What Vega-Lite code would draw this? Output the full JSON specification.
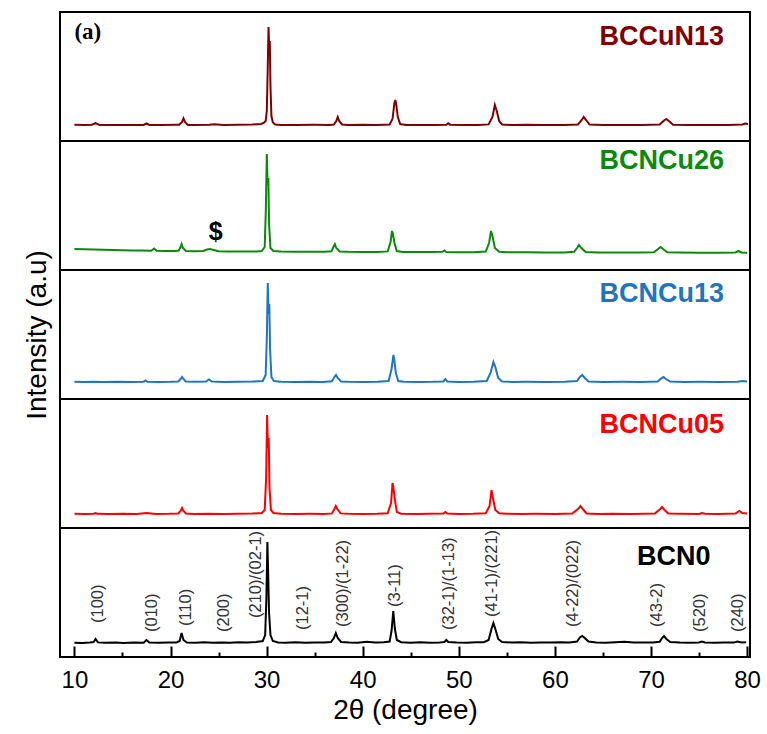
{
  "$schema": "https://vega.github.io/schema/vega-lite/v6.json",
  "padding": {"left": 22, "top": 11, "right": 10, "bottom": 5},
  "spacing": 0,
  "bounds": "flush",
  "config": {"view": {"stroke": "#000", "strokeWidth": 2}, "concat": {"spacing": 0}, "font": "Liberation Sans"},
  "datasets": {
    "bccun13": [
      {"x":10,"y":16.2},{"x":11,"y":16},{"x":11.8,"y":16.3},{"x":12.2,"y":17.8},{"x":12.6,"y":16},{"x":14,"y":16.1},{"x":16,"y":15.9},{"x":17.2,"y":16},{"x":17.5,"y":17.5},{"x":17.8,"y":16},{"x":19,"y":16},{"x":20.6,"y":16.2},
      {"x":20.9,"y":16.2},{"x":21.2,"y":19},{"x":21.35,"y":22.5},{"x":21.5,"y":19},{"x":21.8,"y":16.1},
      {"x":22.5,"y":16},{"x":24,"y":16.3},{"x":24.6,"y":16.8},{"x":25.5,"y":16},{"x":27,"y":16.2},{"x":28.5,"y":16.5},{"x":29.4,"y":17},
      {"x":29.7,"y":18},{"x":29.9,"y":20},{"x":30.02,"y":30},{"x":30.12,"y":75},{"x":30.2,"y":114},{"x":30.27,"y":90},{"x":30.33,"y":100},{"x":30.4,"y":55},{"x":30.5,"y":25},{"x":30.65,"y":18.5},{"x":30.9,"y":16.5},{"x":31.5,"y":16},
      {"x":33,"y":16},{"x":35,"y":16.2},{"x":36.5,"y":16.1},{"x":37.0,"y":16.5},{"x":37.25,"y":20},{"x":37.4,"y":24},{"x":37.55,"y":20},{"x":37.85,"y":16.5},{"x":38.5,"y":16},{"x":40,"y":16.2},{"x":41.5,"y":16},
      {"x":42.8,"y":16.5},{"x":43.1,"y":22},{"x":43.3,"y":38},{"x":43.4,"y":41},{"x":43.5,"y":36},{"x":43.65,"y":24},{"x":43.9,"y":17},{"x":44.5,"y":16},{"x":46,"y":16.1},{"x":47.5,"y":16},
      {"x":48.7,"y":16.2},{"x":48.9,"y":17.8},{"x":49.1,"y":16.2},{"x":50.5,"y":16},{"x":52,"y":16.1},
      {"x":53.1,"y":16.6},{"x":53.5,"y":24},{"x":53.75,"y":36},{"x":53.95,"y":30},{"x":54.2,"y":20},{"x":54.5,"y":16.5},{"x":55.5,"y":16},{"x":57,"y":16.2},{"x":59,"y":16},{"x":61,"y":16.1},
      {"x":62.4,"y":16.5},{"x":62.8,"y":21},{"x":63.0,"y":24},{"x":63.25,"y":21},{"x":63.6,"y":16.5},{"x":65,"y":16},{"x":67,"y":16.1},{"x":69,"y":16},
      {"x":70.9,"y":16.4},{"x":71.35,"y":20.5},{"x":71.6,"y":22},{"x":71.85,"y":20},{"x":72.3,"y":16.3},{"x":74,"y":16},{"x":76,"y":16.1},{"x":78,"y":16},{"x":79.5,"y":16.5},{"x":79.8,"y":17.5},{"x":80.1,"y":17}
    ],
    "bcncu26": [
      {"x":10,"y":21},{"x":11,"y":20.8},{"x":12,"y":20.6},{"x":13,"y":20.3},{"x":14,"y":20},{"x":15,"y":19.8},{"x":16,"y":19.6},{"x":17,"y":19.4},{"x":18,"y":19.2},{"x":18.3,"y":21.5},{"x":18.55,"y":19.2},{"x":19.5,"y":19},{"x":20.5,"y":18.9},
      {"x":20.85,"y":19.5},{"x":21.05,"y":23},{"x":21.15,"y":26},{"x":21.3,"y":22},{"x":21.6,"y":19},{"x":22.5,"y":18.8},{"x":23.4,"y":19},{"x":23.8,"y":20.5},{"x":24.1,"y":21},{"x":24.5,"y":20},{"x":25,"y":18.8},{"x":26,"y":18.6},{"x":27,"y":18.5},{"x":28,"y":18.5},{"x":29,"y":18.6},
      {"x":29.5,"y":19},{"x":29.8,"y":23},{"x":29.92,"y":60},{"x":30.02,"y":116},{"x":30.1,"y":85},{"x":30.18,"y":92},{"x":30.26,"y":45},{"x":30.4,"y":22},{"x":30.7,"y":19},{"x":31.5,"y":18.4},{"x":33,"y":18.3},{"x":34.5,"y":18.2},{"x":36,"y":18.2},
      {"x":36.75,"y":18.8},{"x":36.95,"y":23},{"x":37.1,"y":26},{"x":37.25,"y":22},{"x":37.6,"y":18.6},{"x":38.5,"y":18.2},{"x":40,"y":18.1},{"x":41.5,"y":18},
      {"x":42.6,"y":18.6},{"x":42.9,"y":28},{"x":43.05,"y":39},{"x":43.15,"y":36},{"x":43.3,"y":27},{"x":43.55,"y":19},{"x":44.2,"y":18},{"x":45.5,"y":17.9},{"x":47,"y":17.9},
      {"x":48.3,"y":18.2},{"x":48.5,"y":19.5},{"x":48.7,"y":18},{"x":50,"y":17.8},{"x":51.5,"y":17.8},
      {"x":52.8,"y":18.5},{"x":53.15,"y":27},{"x":53.35,"y":39},{"x":53.5,"y":34},{"x":53.75,"y":22},{"x":54.2,"y":18.3},{"x":55,"y":17.8},{"x":57,"y":17.7},{"x":59,"y":17.6},{"x":61,"y":17.6},
      {"x":62,"y":18.2},{"x":62.3,"y":22},{"x":62.5,"y":25},{"x":62.75,"y":22},{"x":63.2,"y":18},{"x":64.5,"y":17.5},{"x":66.5,"y":17.5},{"x":68.5,"y":17.4},
      {"x":70.3,"y":17.8},{"x":70.8,"y":21.5},{"x":71.0,"y":23},{"x":71.25,"y":21},{"x":71.7,"y":17.7},{"x":73,"y":17.4},{"x":75,"y":17.3},{"x":77,"y":17.2},{"x":78.8,"y":17.5},{"x":79.1,"y":19},{"x":79.4,"y":17.5},{"x":80,"y":17.3}
    ],
    "bcncu13": [
      {"x":10,"y":17.3},{"x":11,"y":17},{"x":12,"y":17.2},{"x":13,"y":17},{"x":14.5,"y":17.2},{"x":16,"y":17},{"x":17.2,"y":17.3},{"x":17.4,"y":18.5},{"x":17.6,"y":17.2},{"x":18.8,"y":17},{"x":20,"y":17.2},
      {"x":20.8,"y":17.6},{"x":21.05,"y":20},{"x":21.2,"y":22},{"x":21.35,"y":20},{"x":21.6,"y":17.5},{"x":22.5,"y":17.2},{"x":23.7,"y":17.5},{"x":24.0,"y":19.5},{"x":24.3,"y":17.4},{"x":25.5,"y":17},{"x":27,"y":17.2},{"x":28.5,"y":17.4},
      {"x":29.6,"y":18},{"x":29.9,"y":24},{"x":30.02,"y":60},{"x":30.12,"y":116},{"x":30.2,"y":85},{"x":30.28,"y":95},{"x":30.36,"y":50},{"x":30.5,"y":22},{"x":30.75,"y":18},{"x":31.5,"y":17.2},{"x":33,"y":17},{"x":34.5,"y":17.2},{"x":35.8,"y":17},
      {"x":36.8,"y":17.8},{"x":37.05,"y":22},{"x":37.22,"y":24},{"x":37.4,"y":21},{"x":37.75,"y":17.6},{"x":38.5,"y":17.2},{"x":40,"y":17},{"x":41.5,"y":17.2},
      {"x":42.7,"y":18},{"x":43.0,"y":30},{"x":43.2,"y":44},{"x":43.3,"y":38},{"x":43.45,"y":26},{"x":43.7,"y":18},{"x":44.3,"y":17.2},{"x":45.8,"y":17},{"x":47.3,"y":17.2},
      {"x":48.4,"y":17.6},{"x":48.6,"y":20},{"x":48.8,"y":17.5},{"x":50,"y":17.1},{"x":51.5,"y":17.2},
      {"x":52.9,"y":18},{"x":53.3,"y":26},{"x":53.6,"y":37},{"x":53.8,"y":32},{"x":54.1,"y":21},{"x":54.5,"y":17.6},{"x":55.5,"y":17.1},{"x":57,"y":17.2},{"x":59,"y":17},{"x":61,"y":17.2},
      {"x":62.3,"y":18},{"x":62.6,"y":22},{"x":62.85,"y":24},{"x":63.1,"y":21},{"x":63.5,"y":17.6},{"x":65,"y":17.1},{"x":67,"y":17.2},{"x":69,"y":17},
      {"x":70.7,"y":17.6},{"x":71.1,"y":21},{"x":71.3,"y":22},{"x":71.55,"y":20},{"x":72,"y":17.4},{"x":73.5,"y":17.1},{"x":75,"y":17.2},{"x":77,"y":17},{"x":79,"y":17.3},{"x":79.5,"y":18},{"x":80,"y":17.4}
    ],
    "bcncu05": [
      {"x":10,"y":14.2},{"x":11,"y":14},{"x":12,"y":14.3},{"x":12.2,"y":15},{"x":12.4,"y":14.2},{"x":13.5,"y":14},{"x":15,"y":14.2},{"x":16.5,"y":14},{"x":17.5,"y":15},{"x":18.5,"y":14.1},{"x":19.8,"y":14.2},
      {"x":20.8,"y":14.5},{"x":21.05,"y":17},{"x":21.2,"y":20},{"x":21.35,"y":17},{"x":21.6,"y":14.5},{"x":22.5,"y":14.1},{"x":24,"y":14.3},{"x":25.5,"y":14},{"x":27,"y":14.2},{"x":28.5,"y":14.4},
      {"x":29.5,"y":15},{"x":29.8,"y":18},{"x":29.95,"y":50},{"x":30.05,"y":113},{"x":30.14,"y":80},{"x":30.22,"y":90},{"x":30.3,"y":40},{"x":30.45,"y":18},{"x":30.7,"y":15},{"x":31.5,"y":14.2},{"x":33,"y":14},{"x":34.5,"y":14.2},{"x":36,"y":14.1},
      {"x":36.8,"y":14.6},{"x":37.05,"y":19},{"x":37.2,"y":22},{"x":37.35,"y":19},{"x":37.7,"y":14.6},{"x":38.5,"y":14.2},{"x":40,"y":14},{"x":41.5,"y":14.2},
      {"x":42.6,"y":14.8},{"x":42.95,"y":25},{"x":43.1,"y":45},{"x":43.2,"y":40},{"x":43.32,"y":30},{"x":43.55,"y":16},{"x":44,"y":14.3},{"x":45.5,"y":14.1},{"x":47,"y":14.2},
      {"x":48.4,"y":14.5},{"x":48.6,"y":16},{"x":48.8,"y":14.5},{"x":50,"y":14.1},{"x":51.5,"y":14.3},
      {"x":52.8,"y":14.8},{"x":53.2,"y":22},{"x":53.4,"y":38},{"x":53.55,"y":30},{"x":53.8,"y":18},{"x":54.2,"y":14.8},{"x":55,"y":14.2},{"x":56.5,"y":14},{"x":58,"y":14.2},{"x":60,"y":14.1},
      {"x":61.8,"y":14.5},{"x":62.4,"y":19},{"x":62.65,"y":22},{"x":62.9,"y":19},{"x":63.3,"y":14.6},{"x":64.5,"y":14.1},{"x":66,"y":14.3},{"x":68,"y":14.1},
      {"x":70.4,"y":14.6},{"x":70.95,"y":19},{"x":71.15,"y":21},{"x":71.4,"y":18},{"x":71.8,"y":14.5},{"x":73,"y":14.2},{"x":75,"y":14.1},{"x":75.3,"y":15},{"x":75.6,"y":14.2},{"x":77,"y":14.1},{"x":78.8,"y":14.6},{"x":79.2,"y":17},{"x":79.5,"y":15},{"x":80,"y":14.5}
    ],
    "bcn0": [
      {"x":10,"y":14.3},{"x":10.8,"y":14},{"x":11.6,"y":14.5},{"x":12.0,"y":15},{"x":12.2,"y":18},{"x":12.45,"y":14.6},{"x":13.2,"y":14.2},{"x":14.3,"y":14.6},{"x":15.1,"y":14},{"x":16.2,"y":14.5},{"x":17.2,"y":14.3},{"x":17.5,"y":17},{"x":17.8,"y":14.4},{"x":18.8,"y":14.2},{"x":19.8,"y":14.6},
      {"x":20.6,"y":14.4},{"x":20.95,"y":16},{"x":21.15,"y":24},{"x":21.35,"y":17},{"x":21.7,"y":14.5},{"x":22.6,"y":14.2},{"x":23.5,"y":14.8},{"x":24.4,"y":14.3},{"x":25.3,"y":14.6},{"x":26.2,"y":14.2},{"x":27.1,"y":14.7},{"x":28.0,"y":14.4},{"x":28.9,"y":15},
      {"x":29.6,"y":16},{"x":29.85,"y":22},{"x":29.98,"y":60},{"x":30.08,"y":115},{"x":30.16,"y":85},{"x":30.25,"y":45},{"x":30.4,"y":22},{"x":30.65,"y":16},{"x":31.2,"y":14.6},{"x":32.0,"y":14.3},{"x":33.0,"y":14.7},{"x":34.0,"y":14.2},{"x":35.0,"y":14.6},{"x":36.0,"y":14.4},
      {"x":36.7,"y":15},{"x":37.0,"y":19},{"x":37.2,"y":24},{"x":37.4,"y":19},{"x":37.75,"y":15},{"x":38.6,"y":14.5},{"x":39.5,"y":14.2},{"x":40.4,"y":15.2},{"x":41.3,"y":14.4},{"x":42.2,"y":14.7},
      {"x":42.8,"y":15.5},{"x":43.0,"y":26},{"x":43.18,"y":46},{"x":43.35,"y":28},{"x":43.55,"y":17},{"x":44.0,"y":14.8},{"x":45.0,"y":14.3},{"x":46.0,"y":14.7},{"x":47.0,"y":14.3},{"x":48.0,"y":14.6},
      {"x":48.5,"y":15},{"x":48.7,"y":17},{"x":48.9,"y":15},{"x":49.8,"y":14.5},{"x":50.8,"y":14.3},{"x":51.8,"y":14.7},
      {"x":52.6,"y":14.8},{"x":53.1,"y":17},{"x":53.4,"y":28},{"x":53.6,"y":34},{"x":53.8,"y":28},{"x":54.1,"y":18},{"x":54.5,"y":15},{"x":55.5,"y":14.5},{"x":56.5,"y":14.8},{"x":57.5,"y":14.3},{"x":58.5,"y":14.6},{"x":59.5,"y":14.4},{"x":60.5,"y":14.7},{"x":61.5,"y":14.5},
      {"x":62.3,"y":15.5},{"x":62.6,"y":19.5},{"x":62.85,"y":21},{"x":63.1,"y":19},{"x":63.5,"y":15.5},{"x":64.3,"y":14.6},{"x":65.3,"y":14.3},{"x":66.3,"y":14.7},{"x":67.2,"y":15.2},{"x":68.2,"y":14.4},{"x":69.2,"y":14.6},{"x":70.2,"y":14.4},
      {"x":70.9,"y":15.2},{"x":71.15,"y":19},{"x":71.35,"y":21},{"x":71.6,"y":18},{"x":72.0,"y":15},{"x":73.0,"y":14.5},{"x":74.0,"y":14.3},{"x":75.0,"y":14.6},{"x":75.3,"y":15.5},{"x":75.6,"y":14.6},{"x":76.6,"y":14.3},{"x":77.6,"y":14.5},{"x":78.6,"y":14.4},{"x":79.0,"y":15.5},{"x":79.4,"y":14.6},{"x":79.9,"y":14.8}
    ],
    "hkl": [
      {"x":12.44,"y":34,"t":"(100)"},{"x":18.07,"y":25,"t":"(010)"},{"x":21.6,"y":31,"t":"(110)"},{"x":25.6,"y":25,"t":"(200)"},{"x":28.9,"y":39,"t":"(210)/(02-1)"},{"x":33.8,"y":27,"t":"(12-1)"},{"x":38.0,"y":30,"t":"(300)/(1-22)"},{"x":43.4,"y":50,"t":"(3-11)"},{"x":49.0,"y":27,"t":"(32-1)/(1-13)"},{"x":53.5,"y":40,"t":"(41-1)/(221)"},{"x":61.9,"y":30,"t":"(4-22)/(022)"},{"x":70.6,"y":30,"t":"(43-2)"},{"x":75.1,"y":25,"t":"(520)"},{"x":79.1,"y":25,"t":"(240)"}
    ]
  },
  "vconcat": [
    {
      "width": 690, "height": 129,
      "layer": [
        {"data": {"name": "bccun13"}, "mark": {"type": "line", "color": "#800000", "strokeWidth": 2},
         "encoding": {"x": {"field": "x", "type": "quantitative", "scale": {"domain": [8.5, 80.3], "nice": false, "zero": false}, "axis": null},
                      "y": {"field": "y", "type": "quantitative", "scale": {"domain": [0, 129], "nice": false}, "axis": null}}},
        {"data": {"values": [{"x": 77.6, "y": 104, "t": "BCCuN13"}]}, "mark": {"type": "text", "align": "right", "baseline": "middle", "fontSize": 27, "fontWeight": "bold", "color": "#800000"},
         "encoding": {"x": {"field": "x", "type": "quantitative", "axis": null}, "y": {"field": "y", "type": "quantitative", "axis": null}, "text": {"field": "t"}}},
        {"data": {"values": [{"x": 10, "y": 109, "t": "(a)"}]}, "mark": {"type": "text", "align": "left", "baseline": "middle", "font": "Liberation Serif", "fontSize": 23, "fontWeight": "bold", "color": "#000"},
         "encoding": {"x": {"field": "x", "type": "quantitative", "axis": null}, "y": {"field": "y", "type": "quantitative", "axis": null}, "text": {"field": "t"}}}
      ]
    },
    {
      "width": 690, "height": 129,
      "layer": [
        {"data": {"name": "bcncu26"}, "mark": {"type": "line", "color": "#0a8a0a", "strokeWidth": 2},
         "encoding": {"x": {"field": "x", "type": "quantitative", "scale": {"domain": [8.5, 80.3], "nice": false, "zero": false}, "axis": null},
                      "y": {"field": "y", "type": "quantitative", "scale": {"domain": [0, 129], "nice": false}, "axis": null}}},
        {"data": {"values": [{"x": 77.6, "y": 109, "t": "BCNCu26"}]}, "mark": {"type": "text", "align": "right", "baseline": "middle", "fontSize": 27, "fontWeight": "bold", "color": "#0a8a0a"},
         "encoding": {"x": {"field": "x", "type": "quantitative", "axis": null}, "y": {"field": "y", "type": "quantitative", "axis": null}, "text": {"field": "t"}}},
        {"data": {"values": [{"x": 24.7, "y": 38, "t": "$"}]}, "mark": {"type": "text", "align": "center", "baseline": "middle", "fontSize": 25, "fontWeight": "bold", "color": "#000"},
         "encoding": {"x": {"field": "x", "type": "quantitative", "axis": null}, "y": {"field": "y", "type": "quantitative", "axis": null}, "text": {"field": "t"}}}
      ]
    },
    {
      "width": 690, "height": 129,
      "layer": [
        {"data": {"name": "bcncu13"}, "mark": {"type": "line", "color": "#1f75c1", "strokeWidth": 2},
         "encoding": {"x": {"field": "x", "type": "quantitative", "scale": {"domain": [8.5, 80.3], "nice": false, "zero": false}, "axis": null},
                      "y": {"field": "y", "type": "quantitative", "scale": {"domain": [0, 129], "nice": false}, "title": "Intensity (a.u)",
                            "axis": {"grid": false, "labels": false, "tickSize": 0, "tickColor": "transparent", "tickCount": 2, "domainColor": "transparent", "titleFontSize": 28, "titleFontWeight": "normal", "titleColor": "#000", "titlePadding": 8}}}},
        {"data": {"values": [{"x": 77.6, "y": 105, "t": "BCNCu13"}]}, "mark": {"type": "text", "align": "right", "baseline": "middle", "fontSize": 27, "fontWeight": "bold", "color": "#1f75c1"},
         "encoding": {"x": {"field": "x", "type": "quantitative", "axis": null},
                      "y": {"field": "y", "type": "quantitative"},
                      "text": {"field": "t"}}}
      ]
    },
    {
      "width": 690, "height": 129,
      "layer": [
        {"data": {"name": "bcncu05"}, "mark": {"type": "line", "color": "#ff0000", "strokeWidth": 2},
         "encoding": {"x": {"field": "x", "type": "quantitative", "scale": {"domain": [8.5, 80.3], "nice": false, "zero": false}, "axis": null},
                      "y": {"field": "y", "type": "quantitative", "scale": {"domain": [0, 129], "nice": false}, "axis": null}}},
        {"data": {"values": [{"x": 77.6, "y": 103, "t": "BCNCu05"}]}, "mark": {"type": "text", "align": "right", "baseline": "middle", "fontSize": 27, "fontWeight": "bold", "color": "#ff0000"},
         "encoding": {"x": {"field": "x", "type": "quantitative", "axis": null}, "y": {"field": "y", "type": "quantitative", "axis": null}, "text": {"field": "t"}}}
      ]
    },
    {
      "width": 690, "height": 129,
      "resolve": {"axis": {"x": "independent"}},
      "layer": [
        {"data": {"name": "bcn0"}, "mark": {"type": "line", "color": "#000", "strokeWidth": 2},
         "encoding": {"x": {"field": "x", "type": "quantitative", "scale": {"domain": [8.5, 80.3], "nice": false, "zero": false},
                            "axis": {"orient": "bottom", "values": [10, 20, 30, 40, 50, 60, 70, 80], "tickSize": -11, "tickWidth": 2, "tickColor": "#000", "domain": false, "grid": false, "labelFontSize": 24, "labelColor": "#000", "labelPadding": 22, "labelFlush": false, "title": "2θ (degree)", "titleFontSize": 28, "titleFontWeight": "normal", "titleColor": "#000", "titlePadding": 4}},
                      "y": {"field": "y", "type": "quantitative", "scale": {"domain": [0, 129], "nice": false}, "axis": null}}},
        {"data": {"name": "hkl"}, "mark": {"type": "text", "angle": 270, "align": "left", "baseline": "middle", "fontSize": 16.5, "color": "#333"},
         "encoding": {"x": {"field": "x", "type": "quantitative",
                            "axis": {"orient": "bottom", "values": [15, 25, 35, 45, 55, 65, 75], "tickSize": -5, "tickWidth": 2, "tickColor": "#000", "labels": false, "domain": false, "grid": false, "title": null}},
                      "y": {"field": "y", "type": "quantitative", "axis": null}, "text": {"field": "t"}}},
        {"data": {"values": [{"x": 76.2, "y": 100, "t": "BCN0"}]}, "mark": {"type": "text", "align": "right", "baseline": "middle", "fontSize": 27, "fontWeight": "bold", "color": "#000"},
         "encoding": {"x": {"field": "x", "type": "quantitative", "axis": null}, "y": {"field": "y", "type": "quantitative", "axis": null}, "text": {"field": "t"}}}
      ]
    }
  ]
}
